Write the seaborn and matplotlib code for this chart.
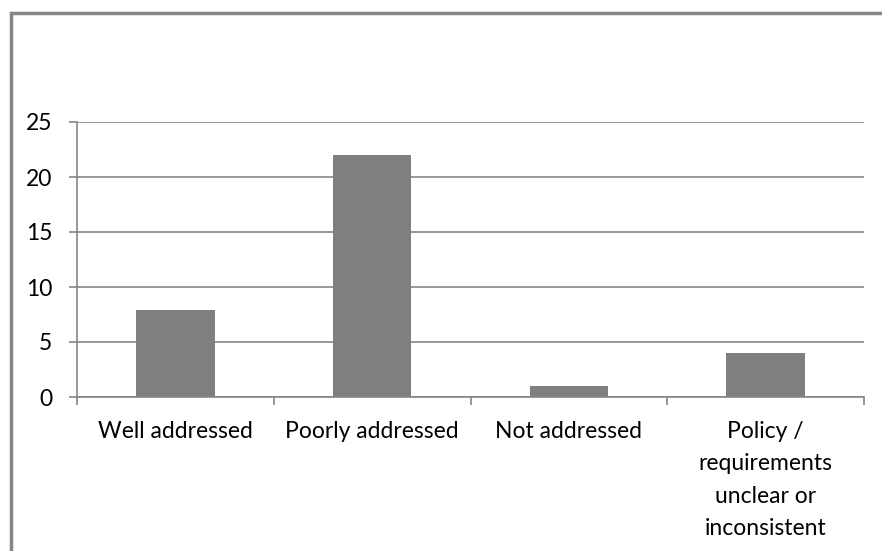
import matplotlib
matplotlib.use("Agg")
import matplotlib.pyplot as plt
import seaborn as sns
import pandas as pd
from matplotlib.patches import Rectangle

categories = ["Well addressed", "Poorly addressed", "Not addressed",
              "Policy /\nrequirements\nunclear or\ninconsistent"]
values = [7.9, 22, 1, 4]
yticks = [0, 5, 10, 15, 20, 25]

sns.set_theme(style="white")
plt.rcParams['font.family'] = ['Lato', 'DejaVu Sans']

W, H = 882, 551
fig = plt.figure(figsize=(W / 100, H / 100), dpi=100)
ax = fig.add_axes([77 / W, 1 - 397 / H, (864 - 77) / W, (397 - 122) / H])

df = pd.DataFrame({"cat": categories, "val": values})
sns.barplot(data=df, x="cat", y="val", color="#7f7f7f", saturation=1,
            width=0.4, ax=ax, edgecolor="none")

grid_c = "#868686"
ax.set_ylim(0, 25)
ax.set_xlim(-0.5, 3.5)
ax.set_yticks(yticks)
ax.set_yticklabels([str(v) for v in yticks])
ax.yaxis.grid(True, color=grid_c, linewidth=1.2)
ax.set_axisbelow(True)
ax.set_xlabel("")
ax.set_ylabel("")
for s in ["top", "right"]:
    ax.spines[s].set_visible(False)
for s in ["left", "bottom"]:
    ax.spines[s].set_color(grid_c)
    ax.spines[s].set_linewidth(1.2)

FS = 16.5
ax.tick_params(axis="y", which="major", length=5.8, width=1.2, color=grid_c,
               direction="out", pad=12, labelsize=FS, labelcolor="#000000", left=True)
ax.set_xticks([0, 1, 2, 3])
ax.set_xticklabels(categories, linespacing=1.68)
ax.set_xticks([-0.5, 0.5, 1.5, 2.5, 3.5], minor=True)
ax.tick_params(axis="x", which="major", length=0, pad=17, labelsize=FS, labelcolor="#000000")
ax.tick_params(axis="x", which="minor", length=5.8, width=1.2, color=grid_c,
               direction="out", bottom=True)
for lbl in ax.get_xticklabels():
    lbl.set_verticalalignment("top")
    lbl.set_horizontalalignment("center")

# chart outer border (left & top visible)
fig.patches.append(Rectangle((10.5 / W, -0.1), 1.2, 1.1 - 12.5 / H,
                             transform=fig.transFigure, fill=False,
                             edgecolor="#868686", linewidth=2.5))

fig.savefig("out.png", dpi=100)
